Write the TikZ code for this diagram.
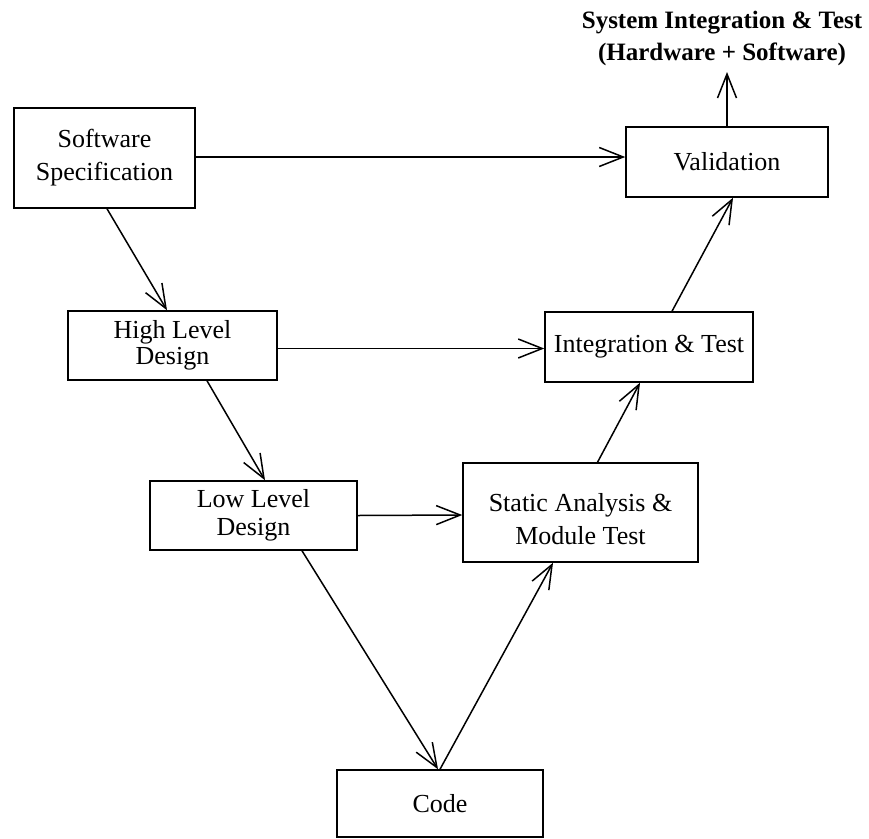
\documentclass[tikz,border=0pt]{standalone}
\usepackage{fontspec}
\setmainfont{Liberation Serif}
\usetikzlibrary{arrows.meta}
\begin{document}
\begin{tikzpicture}[x=1pt,y=-1pt,
  box/.style={draw,line width=1.5pt,align=center,inner sep=0pt,
    font=\fontsize{26}{33}\selectfont},
  arr/.style={line width=1.5pt,-{Straight Barb[length=24pt,width=19pt,line width=1.5pt]}},
  toplabel/.style={align=center,inner sep=0pt,font=\fontsize{25}{32}\selectfont\bfseries}]
\useasboundingbox (0,0) rectangle (869,838);

% process stages
\node[box,minimum width=181pt,minimum height=100pt] (spec) at (104.5,158) {Software\\Specification};
\node[box,minimum width=202pt,minimum height=70pt] (val) at (727,162) {Validation};
\node[box,minimum width=209pt,minimum height=69pt,font=\fontsize{26}{26}\selectfont] (hld) at (172.5,345.5) {High Level\\Design};
\node[box,minimum width=208pt,minimum height=70pt] (it) at (649,347) {Integration \& Test};
\node[box,minimum width=207pt,minimum height=69pt,font=\fontsize{26}{28}\selectfont] (lld) at (253.5,515.5) {Low Level\\Design};
\node[box,minimum width=235pt,minimum height=99pt,
  label={[align=center,yshift=-7pt,font=\fontsize{26}{33}\selectfont]center:Static Analysis \&\\Module Test}] (samt) at (580.5,512.5) {};
\node[box,minimum width=206pt,minimum height=67pt] (code) at (440,803.5) {Code};

% final stage beyond software
\node[toplabel] (sysit) at (722,38) {System Integration \& Test\\(Hardware + Software)};
\coordinate (toptip) at (727,72);

% design side
\draw[arr] ([yshift=1pt]spec.east) -- ([yshift=5pt]val.west);
\draw[arr] ([xshift=2.5pt]spec.south) -- ([xshift=-5.5pt]hld.north);
\draw[arr] ([yshift=-3pt]hld.east) -- ([yshift=-1.5pt]it.west);
\draw[arr] ([xshift=34.5pt]hld.south) -- ([xshift=11.5pt]lld.north);
\draw[arr] (lld.east) -- ([yshift=-2.5pt]samt.west);
\draw[arr] ([xshift=48.5pt]lld.south) -- ([xshift=-2pt]code.north);

% verification side
\draw[arr] (code.north) -- ([xshift=-27.5pt]samt.south);
\draw[arr] ([xshift=17pt]samt.north) -- ([xshift=-9pt]it.south);
\draw[arr] ([xshift=23pt]it.north) -- ([xshift=6pt]val.south);
\draw[arr] (val.north) -- (toptip);
\end{tikzpicture}
\end{document}
